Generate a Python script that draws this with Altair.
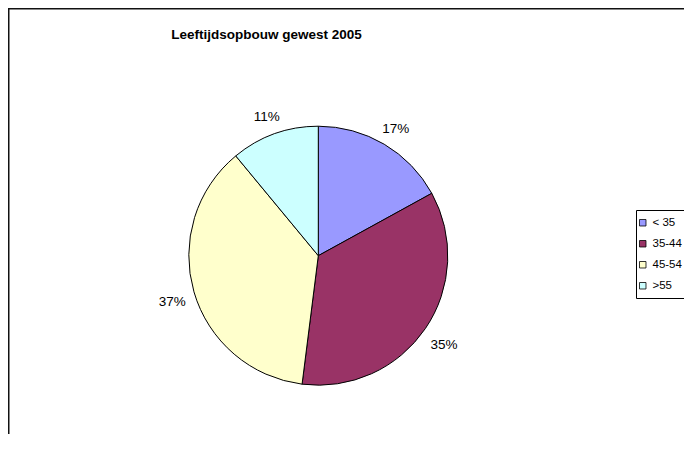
import altair as alt
import pandas as pd

categories = ["< 35", "35-44", "45-54", ">55"]
values = [17, 35, 37, 11]
labels = ["17%", "35%", "37%", "11%"]
colors = ["#9999FF", "#993366", "#FFFFCC", "#CCFFFF"]
title_text = "Leeftijdsopbouw gewest 2005"

df = pd.DataFrame({"cat": categories, "val": values, "lab": labels,
                   "order": list(range(len(categories)))})

FONT = "Liberation Sans"
CX, CY = 310.3, 247.7
color_scale = alt.Scale(domain=categories, range=colors)

base = alt.Chart(df).encode(
    theta=alt.Theta("val:Q", stack=True),
    order=alt.Order("order:Q"),
)

pie = base.mark_arc(stroke="black", strokeWidth=1, outerRadius=129.5).encode(
    x=alt.value(CX), y=alt.value(CY),
    color=alt.Color("cat:N", scale=color_scale, sort=categories,
                    legend=alt.Legend(title=None, orient="none",
                                      legendX=629, legendY=209,
                                      padding=0, offset=0,
                                      symbolType="square", symbolSize=42,
                                      symbolStrokeColor="black", symbolStrokeWidth=0.8,
                                      symbolOpacity=1,
                                      labelFont=FONT, labelFontSize=11.5,
                                      labelColor="black", labelOffset=4,
                                      rowPadding=8)),
)

pct = base.mark_text(radius=152, dy=4, font=FONT, fontSize=13.5, color="black").encode(
    x=alt.value(CX), y=alt.value(CY),
    text="lab:N",
)

frame_df = pd.DataFrame({"t": [title_text]})
title = alt.Chart(frame_df).mark_text(font=FONT, fontSize=13.5, fontWeight="bold",
                                      color="black").encode(
    x=alt.value(258.5), y=alt.value(27), text="t:N")

def hrule(x0, x1, y, w=1.0, c="black"):
    return alt.Chart(frame_df).mark_rule(color=c, strokeWidth=w).encode(
        x=alt.value(x0), x2=alt.value(x1), y=alt.value(y))

def vrule(x, y0, y1, w=1.0, c="black"):
    return alt.Chart(frame_df).mark_rule(color=c, strokeWidth=w).encode(
        x=alt.value(x), y=alt.value(y0), y2=alt.value(y1))

frame_left = vrule(0.75, 0, 460, 1.5, "#111")
frame_top = hrule(0, 700, 0.75, 1.5, "#111")
leg_left = vrule(628.5, 202.5, 290.5)
leg_top = hrule(628.5, 700, 202.5)
leg_bottom = hrule(628.5, 700, 290.5)

chart = alt.layer(frame_left, frame_top, leg_left, leg_top, leg_bottom,
                  pie, pct, title).properties(
    width=676, height=426, padding=0,
    autosize=alt.AutoSizeParams(type="none"),
).configure_view(stroke=None)

chart.save("out.html", embed_options={"renderer": "svg", "actions": False})
